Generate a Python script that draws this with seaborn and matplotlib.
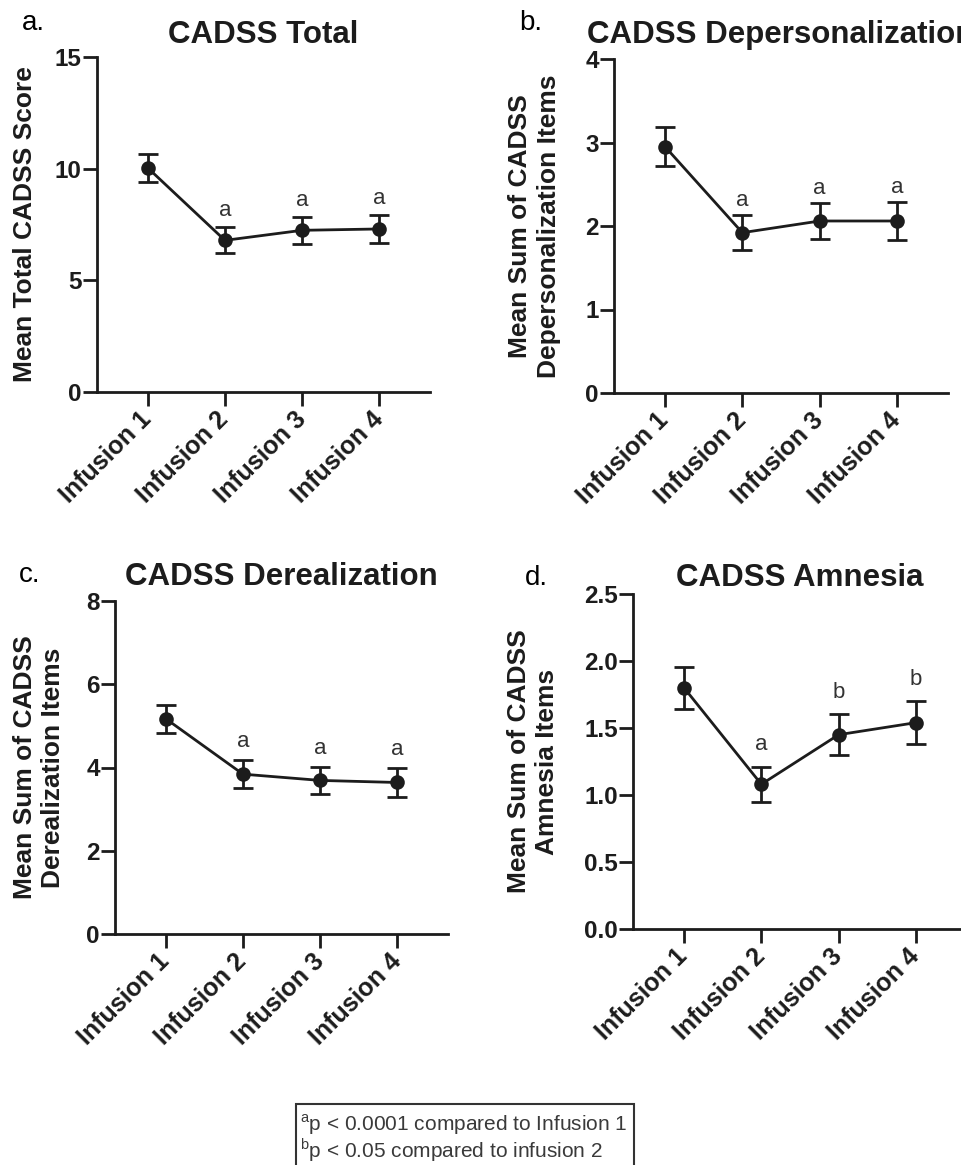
import numpy as np
import pandas as pd
import matplotlib
matplotlib.use('Agg')
import matplotlib.pyplot as plt
from matplotlib.patches import Rectangle
import seaborn as sns

# values (mean +/- SEM)
infusions = ['Infusion 1', 'Infusion 2', 'Infusion 3', 'Infusion 4']

total_mean = [10.03, 6.79, 7.24, 7.30]
total_sem = [0.64, 0.58, 0.60, 0.64]

depers_mean = [2.95, 1.92, 2.06, 2.06]
depers_sem = [0.23, 0.21, 0.22, 0.23]

dereal_mean = [5.17, 3.84, 3.69, 3.64]
dereal_sem = [0.33, 0.33, 0.32, 0.34]

amnesia_mean = [1.80, 1.08, 1.45, 1.54]
amnesia_sem = [0.155, 0.132, 0.153, 0.160]

sig_total = ['', 'a', 'a', 'a']
sig_depers = ['', 'a', 'a', 'a']
sig_dereal = ['', 'a', 'a', 'a']
sig_amnesia = ['', 'a', 'b', 'b']

titles = ['CADSS Total', 'CADSS Depersonalization', 'CADSS Derealization', 'CADSS Amnesia']
ylabels = ['Mean Total CADSS Score',
           'Mean Sum of CADSS\nDepersonalization Items',
           'Mean Sum of CADSS\nDerealization Items',
           'Mean Sum of CADSS\nAmnesia Items']
panel_letters = ['a.', 'b.', 'c.', 'd.']
yticks = [[0, 5, 10, 15], [0, 1, 2, 3, 4], [0, 2, 4, 6, 8], [0.0, 0.5, 1.0, 1.5, 2.0, 2.5]]
footnotes = [r'$^{\rm a}$p < 0.0001 compared to Infusion 1',
             r'$^{\rm b}$p < 0.05 compared to infusion 2']

sns.set_style('ticks')
plt.rcParams['font.family'] = ['Liberation Sans', 'DejaVu Sans']
plt.rcParams['mathtext.fontset'] = 'custom'
plt.rcParams['mathtext.rm'] = 'Liberation Sans'

INK = '#1c1c1c'
W, H = 962, 1165

fig = plt.figure(figsize=(9.62, 11.65), dpi=100)

# axes boxes in pixels: left, right, top, bottom
boxes = [(97, 430, 57, 392), (614, 948, 59, 393), (115, 448, 601, 934), (633, 967, 594, 929)]
label_x = [-0.215, -0.238, -0.228, -0.30]
title_pad = [10, 11.5, 11.5, 6]
sig_offset = [8, 6.5, 9.5, 12]
letter_pos = [(22, 30), (519, 30), (19, 582), (525, 585)]

means = [total_mean, depers_mean, dereal_mean, amnesia_mean]
sems = [total_sem, depers_sem, dereal_sem, amnesia_sem]
sigs = [sig_total, sig_depers, sig_dereal, sig_amnesia]

for i in range(4):
    l, r, t, b = boxes[i]
    ax = fig.add_axes([l / W, (H - b) / H, (r - l) / W, (b - t) / H])
    df = pd.DataFrame({'infusion': infusions, 'mean': means[i], 'sem': sems[i]})

    sns.pointplot(data=df, x='infusion', y='mean', errorbar=None, color=INK,
                  markers='o', markersize=9, linewidth=2, ax=ax, zorder=3)
    ax.errorbar(np.arange(len(infusions)), df['mean'], yerr=df['sem'], fmt='none',
                ecolor=INK, elinewidth=2, capsize=7, capthick=2, zorder=2)

    for k, s in enumerate(sigs[i]):
        if s:
            ax.annotate(s, (k, df['mean'][k] + df['sem'][k]), xytext=(0, sig_offset[i]),
                        textcoords='offset points', ha='center', va='baseline',
                        fontsize=16, color='#333333')

    ax.set_xlim(-0.66, 3.66)
    ax.set_ylim(yticks[i][0], yticks[i][-1])
    ax.set_yticks(yticks[i])
    if i == 3:
        ax.set_yticklabels([f'{v:.1f}' for v in yticks[i]])
    ax.set_xticks(range(len(infusions)))
    ax.set_xticklabels(infusions, rotation=45, ha='right', va='center',
                       rotation_mode='anchor', fontweight='bold', fontsize=18)
    for lab in ax.get_yticklabels():
        lab.set_fontweight('bold')
        lab.set_fontsize(17.5)

    sns.despine(ax=ax)
    for sp in ['left', 'bottom']:
        ax.spines[sp].set_linewidth(2)
        ax.spines[sp].set_color(INK)
    ax.tick_params(axis='both', direction='out', length=10, width=2, color=INK,
                   labelcolor=INK, pad=1)
    ax.tick_params(axis='x', pad=7)

    ax.set_xlabel('')
    ax.set_ylabel(ylabels[i], fontsize=19, fontweight='bold', color=INK,
                  va='center', linespacing=1.22)
    ax.yaxis.set_label_coords(label_x[i], 0.5)
    ax.set_title(titles[i], fontsize=22.5, fontweight='bold', color=INK, pad=title_pad[i])

    lx, ly = letter_pos[i]
    fig.text(lx / W, (H - ly) / H, panel_letters[i], fontsize=20, color='black',
             va='baseline', ha='left')

# footnote box
fig.patches.append(Rectangle((296 / W, -0.05), (634 - 296) / W, 0.05 + (H - 1104) / H,
                             transform=fig.transFigure, fill=False, edgecolor='#333333',
                             linewidth=1.5, clip_on=False))
fig.text(300 / W, (H - 1131) / H, footnotes[0], fontsize=15, color='#3a3a3a', va='baseline')
fig.text(300 / W, (H - 1157) / H, footnotes[1], fontsize=15, color='#3a3a3a', va='baseline')

fig.savefig('out.png', dpi=100)
